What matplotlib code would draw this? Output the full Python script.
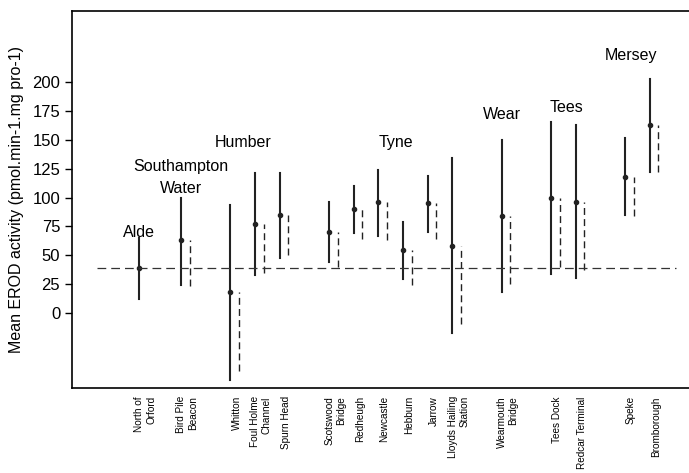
import matplotlib.pyplot as plt

plt.rcParams['font.family'] = ['Liberation Sans', 'DejaVu Sans']

sites = ["North of\nOrford", "Bird Pile\nBeacon", "Whitton", "Foul Holme\nChannel",
         "Spurn Head", "Scotswood\nBridge", "Redheugh", "Newcastle", "Hebburn",
         "Jarrow", "Lloyds Hailing\nStation", "Wearmouth\nBridge", "Tees Dock",
         "Redcar Terminal", "Speke", "Bromborough"]

# solid bars: mean with upper / lower limits
means = [39, 63, 18, 77, 85, 70, 90, 96, 55, 95, 58, 84, 100, 96, 118, 163]
upper = [65, 100, 94, 121, 121, 96, 110, 124, 79, 119, 134, 150, 166, 163, 152, 203]
lower = [12, 24, -58, 33, 48, 44, 69, 67, 29, 70, -17, 18, 34, 30, 85, 122]

# dashed bars: from mean down to this value (none for North of Orford)
dash_low = [None, 23, -50, 35, 50, 40, 64, 63, 24, 64, -10, 25, 40, 37, 84, 122]

baseline = 39

estuaries = ["Alde", "Southampton", "Water", "Humber", "Tyne", "Wear", "Tees", "Mersey"]
est_x = [0, 1.7, 1.7, 4.2, 10.4, 14.7, 17.35, 19.95]
est_y = [70, 127, 108, 148, 148, 172, 178, 223]

pos = [0, 1.7, 3.7, 4.7, 5.7, 7.7, 8.7, 9.7, 10.7, 11.7, 12.7, 14.7, 16.7, 17.7, 19.7, 20.7]

fig = plt.figure(figsize=(6.89, 4.73), dpi=100)
ax = fig.add_axes([0.1045, 0.180, 0.8955, 0.797])

for i, p in enumerate(pos):
    ax.plot([p, p], [lower[i], upper[i]], color="#222222", lw=1.5)
    ax.plot(p, means[i], "o", color="#222222", ms=3)
    if dash_low[i] is not None:
        ax.plot([p + 0.35, p + 0.35], [dash_low[i], means[i]], color="#222222",
                lw=1.0, ls=(0, (5, 3)))

ax.axhline(baseline, xmin=0.04, xmax=0.979, color="#333333", lw=0.9, ls=(0, (7, 4)))

for t, x, y in zip(estuaries, est_x, est_y):
    ax.text(x, y, t, ha="center", va="center", fontsize=11.5)

ax.set_xlim(-2.72, 22.3)
ax.set_ylim(-65, 262)
ax.set_yticks(range(0, 201, 25))
ax.tick_params(axis="y", labelsize=12, length=5, width=1)
ax.set_xticks([p + 0.25 for p in pos])
ax.set_xticklabels(sites, rotation=90, fontsize=7.2, va="top", ha="center",
                   multialignment="right")
ax.tick_params(axis="x", length=0, pad=6)
ax.spines["right"].set_visible(False)
for s in ["left", "top", "bottom"]:
    ax.spines[s].set_linewidth(1.2)
ax.set_ylabel("Mean EROD activity (pmol.min-1.mg pro-1)", fontsize=11.5)
ax.yaxis.set_label_coords(-0.077, 0.5)

fig.savefig("out.png", dpi=100)
